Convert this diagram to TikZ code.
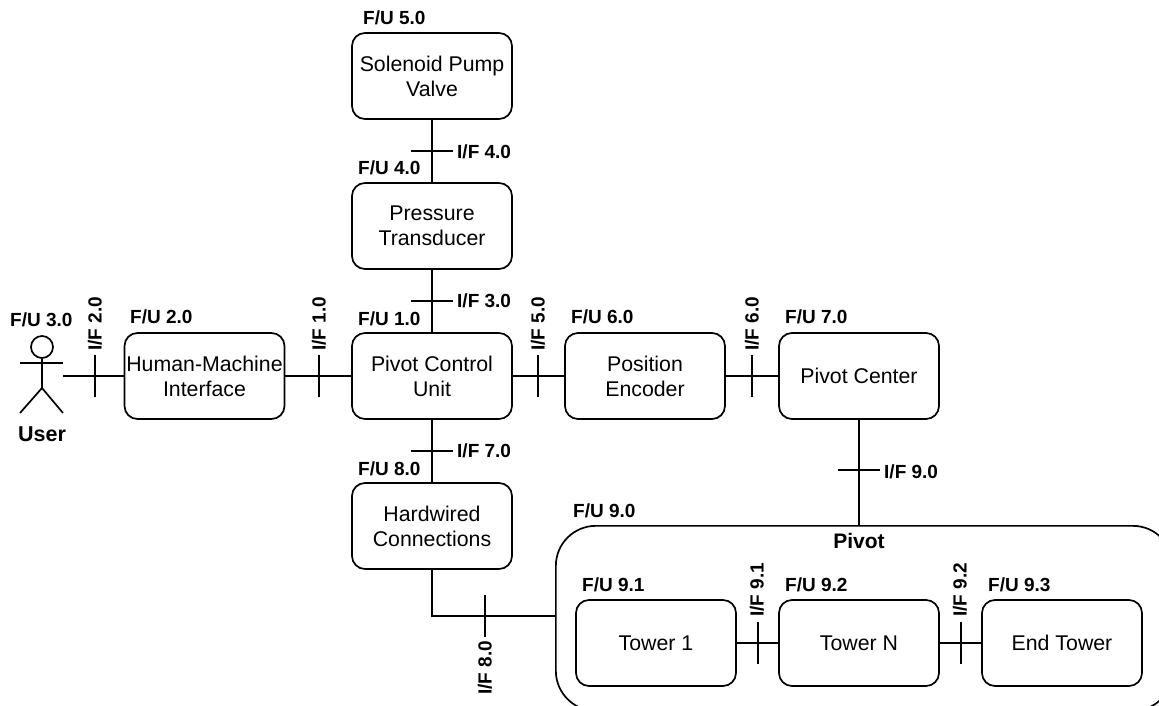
\documentclass[tikz,border=0pt]{standalone}
\usepackage{fontspec}
\setmainfont{Liberation Sans}
\usetikzlibrary{positioning,calc}

\begin{document}
\begin{tikzpicture}[
  x=1pt, y=-1pt,
  unit/.style={rectangle, rounded corners=13pt, draw=black, line width=1.7pt, inner sep=1pt,
               minimum width=160pt, minimum height=86pt, align=center,
               font=\fontsize{21.3}{25}\selectfont},
  outer/.style={rectangle, rounded corners=40pt, draw=black, line width=1.7pt,
               minimum width=617pt, minimum height=185pt, anchor=north west},
  link/.style={line width=1.7pt},
  fu/.style={font=\fontsize{19}{22}\selectfont\bfseries, anchor=base west, inner sep=0pt},
  ifv/.style={font=\fontsize{19}{22}\selectfont\bfseries, anchor=west, inner sep=0pt},
  ifh/.style={font=\fontsize{19}{22}\selectfont\bfseries, anchor=west, inner sep=0pt, rotate=90},
]
\useasboundingbox (0,0) rectangle (1159,706);
\clip (0,0) rectangle (1159,706);

% ---------- function units
\node[unit] (pump) at (432,76)  {Solenoid Pump\\Valve};
\node[unit] (trans) at (432,226) {Pressure\\Transducer};
\node[unit] (pcu) at (432,376)   {Pivot Control\\Unit};
\node[unit] (wired) at (432,526) {Hardwired\\Connections};
\node[unit] (hmi) at (204.5,376) {Human-Machine\\Interface};
\node[unit] (enc) at (645,376)   {Position\\Encoder};
\node[unit] (center) at (859,376) {Pivot Center};
\node[outer] (pivot) at (555,525) {};
\node[unit] (t1) at (656,643)  {Tower 1};
\node[unit] (tn) at (859,643)  {Tower N};
\node[unit] (tend) at (1062,643) {End Tower};
\node[font=\fontsize{21}{24}\selectfont\bfseries] (pivotname) at (859,541) {Pivot};

% ---------- the user
\coordinate (hip) at (42,388);
\coordinate (armL) at (20,363);
\coordinate (armR) at (63,363);
\coordinate (footL) at (20,413);
\coordinate (footR) at (63,413);
\coordinate (hand) at (63,376);
\node[circle, draw=black, line width=1.7pt, minimum size=22pt, inner sep=0pt] (head) at (42,347) {};
\draw[link] (head.south) -- (hip);
\draw[link] (armL) -- (armR);
\draw[link] (footL) -- (hip) -- (footR);
\node[font=\fontsize{21.5}{24}\selectfont\bfseries] (user) at (42,434) {User};

% ---------- connectors
\draw[link] (hand) -- (hmi.west);
\draw[link] (hmi.east) -- (pcu.west);
\draw[link] (pump.south) -- (trans.north);
\draw[link] (trans.south) -- (pcu.north);
\draw[link] (pcu.south) -- (wired.north);
\draw[link] (pcu.east) -- (enc.west);
\draw[link] (enc.east) -- (center.west);
\draw[link] (center.south) -- (center.south |- pivot.north);
\draw[link] (wired.south) |- (pivot.west |- 0,616);
\draw[link] (t1.east) -- (tn.west);
\draw[link] (tn.east) -- (tend.west);

% ---------- ticks on the horizontal links
\foreach \x/\y in {95/376, 319/376, 538/376, 752/376, 485/616, 758/643, 961/643} {
  \draw[link] (\x,\y-21) -- (\x,\y+21);
}
% ---------- ticks on the vertical links
\foreach \x/\y in {432/151, 432/301, 432/451, 859/470} {
  \draw[link] (\x-21,\y) -- (\x+21,\y);
}

% ---------- interface labels
\node[ifv] (if4) at (457,152) {I/F 4.0};
\node[ifv] (if3) at (457,301) {I/F 3.0};
\node[ifv] (if7) at (457,451) {I/F 7.0};
\node[ifv] (if9) at (884,472) {I/F 9.0};
\node[ifh] (if2) at (95,351) {I/F 2.0};
\node[ifh] (if1) at (319,351) {I/F 1.0};
\node[ifh] (if5) at (538,351) {I/F 5.0};
\node[ifh] (if6) at (752,351) {I/F 6.0};
\node[ifh] (if91) at (757,617) {I/F 9.1};
\node[ifh] (if92) at (960,617) {I/F 9.2};
\node[ifh] (if8) at (485,695) {I/F 8.0};

% ---------- unit labels
\node[fu] (fu5) at (363,25) {F/U 5.0};
\node[fu] (fu4) at (358,175) {F/U 4.0};
\node[fu] (fu1) at (358,325) {F/U 1.0};
\node[fu] (fu8) at (358,475) {F/U 8.0};
\node[fu] (fu3) at (10,326) {F/U 3.0};
\node[fu] (fu2) at (130,323) {F/U 2.0};
\node[fu] (fu6) at (571,323) {F/U 6.0};
\node[fu] (fu7) at (785,323) {F/U 7.0};
\node[fu] (fu9) at (573,517) {F/U 9.0};
\node[fu] (fu91) at (582,591) {F/U 9.1};
\node[fu] (fu92) at (785,591) {F/U 9.2};
\node[fu] (fu93) at (988,591) {F/U 9.3};
\end{tikzpicture}
\end{document}
